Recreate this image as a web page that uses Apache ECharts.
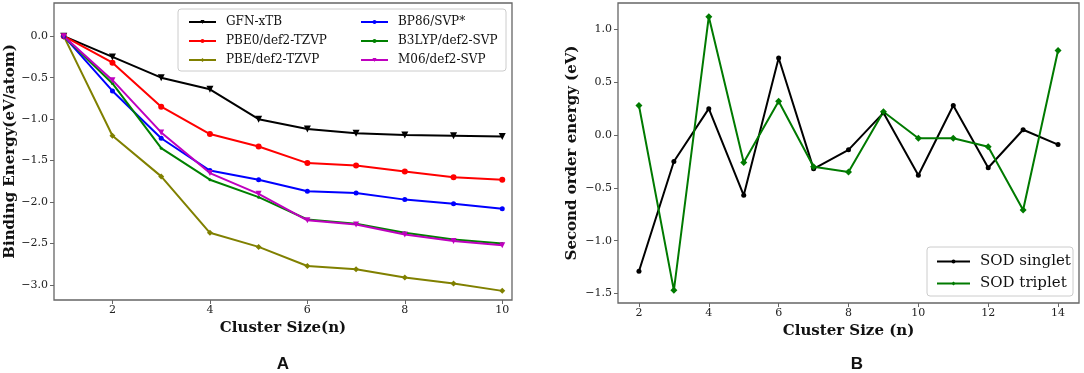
<!DOCTYPE html>
<html>
<head>
<meta charset="utf-8">
<script src="https://cdn.jsdelivr.net/npm/echarts@6/dist/echarts.min.js"></script>
<style>
  html, body { margin: 0; padding: 0; background: #fff; }
  #chart { width: 1084px; height: 373px; }
</style>
</head>
<body>
<div id="chart"></div>
<script>
// Panel A: binding energy per atom vs cluster size
const sizesA = [1, 2, 3, 4, 5, 6, 7, 8, 9, 10];
const gfnXtb = [0, -0.25, -0.50, -0.64, -1.00, -1.12, -1.17, -1.19, -1.20, -1.21];
const pbe0Tzvp = [0, -0.32, -0.85, -1.18, -1.33, -1.53, -1.56, -1.63, -1.70, -1.73];
const pbeTzvp = [0, -1.20, -1.69, -2.37, -2.54, -2.77, -2.81, -2.91, -2.98, -3.07];
const bp86Svp = [0, -0.66, -1.23, -1.62, -1.73, -1.87, -1.89, -1.97, -2.02, -2.08];
const b3lypSvp = [0, -0.57, -1.35, -1.73, -1.94, -2.21, -2.26, -2.37, -2.45, -2.50];
const m06Svp = [0, -0.53, -1.16, -1.65, -1.90, -2.22, -2.27, -2.39, -2.47, -2.52];
const ticksAx = [2, 4, 6, 8, 10];
const ticksAy = [-3.0, -2.5, -2.0, -1.5, -1.0, -0.5, 0.0];

// Panel B: second order energy difference
const sizesB = [2, 3, 4, 5, 6, 7, 8, 9, 10, 11, 12, 13, 14];
const sodSinglet = [-1.29, -0.25, 0.25, -0.57, 0.73, -0.32, -0.14, 0.21, -0.38, 0.28, -0.31, 0.05, -0.09];
const sodTriplet = [0.28, -1.47, 1.12, -0.26, 0.32, -0.30, -0.35, 0.22, -0.03, -0.03, -0.11, -0.71, 0.80];
const ticksBx = [2, 4, 6, 8, 10, 12, 14];
const ticksBy = [-1.5, -1.0, -0.5, 0.0, 0.5, 1.0];

const serif = "'DejaVu Serif', serif";
const frameColor = '#666';

function pairs(xs, ys) {
    return xs.map((x, i) => [x, ys[i]]);
}

function fmt(v) {
    return v.toFixed(1).replace('-', '\u2212');
}

function lineSeries(name, xs, ys, color, symbol, size, gi, rotate) {
    return {
        name: name,
        type: 'line',
        xAxisIndex: gi,
        yAxisIndex: gi,
        data: pairs(xs, ys),
        symbol: symbol,
        symbolSize: size,
        symbolRotate: rotate || 0,
        showSymbol: true,
        lineStyle: { color: color, width: 2 },
        itemStyle: { color: color },
        animation: false,
        z: 3
    };
}

function xAxisCfg(gi, min, max, ticks, name) {
    return {
        type: 'value', gridIndex: gi, min: min, max: max,
        name: name, nameLocation: 'middle', nameGap: 19,
        nameTextStyle: { fontFamily: serif, fontWeight: 'bold', fontSize: 15, color: '#111' },
        axisLine: { show: false, onZero: false },
        axisTick: { show: true, customValues: ticks, length: 4, lineStyle: { color: frameColor } },
        axisLabel: { customValues: ticks, margin: 5, fontFamily: serif, fontSize: 11, color: '#222' },
        splitLine: { show: false }
    };
}

function yAxisCfg(gi, min, max, ticks, name, gap) {
    return {
        type: 'value', gridIndex: gi, min: min, max: max,
        name: name, nameLocation: 'middle', nameGap: gap,
        nameTextStyle: { fontFamily: serif, fontWeight: 'bold', fontSize: 15, color: '#111' },
        axisLine: { show: false, onZero: false },
        axisTick: { show: true, customValues: ticks, length: 4, lineStyle: { color: frameColor } },
        axisLabel: { customValues: ticks, margin: 6, fontFamily: serif, fontSize: 11, color: '#222', formatter: fmt },
        splitLine: { show: false }
    };
}

const legendText = { fontFamily: serif, fontSize: 12, lineHeight: 12, color: '#111', padding: [0, 0, 0, 5] };

const chart = echarts.init(document.getElementById('chart'), null, { renderer: 'canvas' });

chart.setOption({
    backgroundColor: '#fff',
    animation: false,
    grid: [
        { left: 54, top: 3, width: 458, height: 297, show: true, borderColor: frameColor, borderWidth: 1.3, backgroundColor: 'transparent' },
        { left: 618, top: 3, width: 461, height: 300, show: true, borderColor: frameColor, borderWidth: 1.3, backgroundColor: 'transparent' }
    ],
    xAxis: [
        xAxisCfg(0, 0.8, 10.2, ticksAx, 'Cluster Size(n)'),
        xAxisCfg(1, 1.4, 14.6, ticksBx, 'Cluster Size (n)')
    ],
    yAxis: [
        yAxisCfg(0, -3.18, 0.40, ticksAy, 'Binding Energy(eV/atom)', 36),
        yAxisCfg(1, -1.59, 1.25, ticksBy, 'Second order energy (eV)', 38)
    ],
    legend: [
        {
            data: ['GFN-xTB', 'PBE0/def2-TZVP', 'PBE/def2-TZVP'],
            orient: 'vertical', left: 183, top: 11,
            itemWidth: 27, itemHeight: 5, itemGap: 7,
            textStyle: legendText
        },
        {
            data: ['BP86/SVP*', 'B3LYP/def2-SVP', 'M06/def2-SVP'],
            orient: 'vertical', left: 355, top: 11,
            itemWidth: 27, itemHeight: 5, itemGap: 7,
            textStyle: legendText
        },
        {
            data: ['SOD singlet', 'SOD triplet'],
            orient: 'vertical', left: 931, top: 249,
            itemWidth: 33, itemHeight: 5, itemGap: 7,
            textStyle: { fontFamily: serif, fontSize: 15, lineHeight: 15, color: '#111', padding: [0, 0, 0, 5] }
        }
    ],
    graphic: [
        { type: 'rect', shape: { x: 178, y: 9, width: 328, height: 62, r: 3 }, style: { fill: 'rgba(255,255,255,0.8)', stroke: '#ccc', lineWidth: 1 }, z: 1 },
        { type: 'rect', shape: { x: 927, y: 247, width: 146, height: 49, r: 3 }, style: { fill: 'rgba(255,255,255,0.8)', stroke: '#ccc', lineWidth: 1 }, z: 1 },
        { type: 'text', x: 283, y: 364, style: { text: 'A', font: "bold 17px 'Liberation Sans', Arial, sans-serif", fill: '#111', textAlign: 'center', textVerticalAlign: 'middle' } },
        { type: 'text', x: 857, y: 364, style: { text: 'B', font: "bold 17px 'Liberation Sans', Arial, sans-serif", fill: '#111', textAlign: 'center', textVerticalAlign: 'middle' } }
    ],
    series: [
        lineSeries('GFN-xTB', sizesA, gfnXtb, '#000000', 'triangle', 7, 0, 180),
        lineSeries('PBE0/def2-TZVP', sizesA, pbe0Tzvp, '#ff0000', 'circle', 6, 0),
        lineSeries('PBE/def2-TZVP', sizesA, pbeTzvp, '#808000', 'diamond', 6, 0),
        lineSeries('BP86/SVP*', sizesA, bp86Svp, '#0000ff', 'circle', 5, 0),
        lineSeries('B3LYP/def2-SVP', sizesA, b3lypSvp, '#008000', 'circle', 3, 0),
        lineSeries('M06/def2-SVP', sizesA, m06Svp, '#bf00bf', 'triangle', 6, 0, 180),
        lineSeries('SOD singlet', sizesB, sodSinglet, '#000000', 'circle', 5, 1),
        lineSeries('SOD triplet', sizesB, sodTriplet, '#007a00', 'diamond', 7, 1)
    ]
});

window.addEventListener('resize', function () {
    chart.resize();
});
</script>
</body>
</html>
